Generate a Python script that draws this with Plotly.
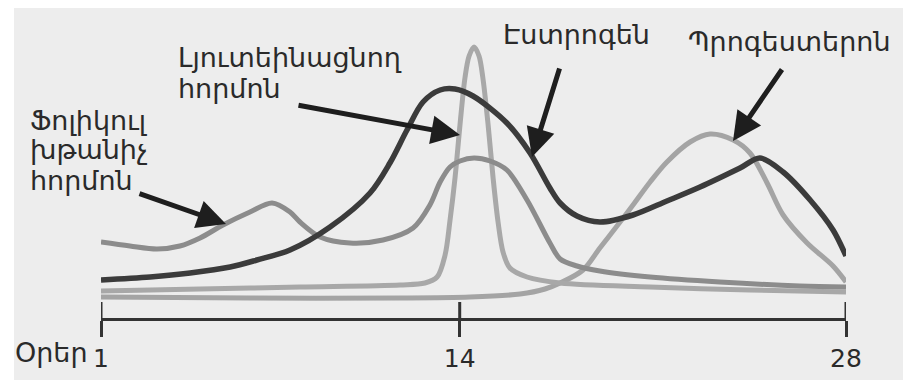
import plotly.graph_objects as go

# ---- data (level = relative hormone level) ----
fsh_days = [1.00, 2.05, 3.03, 3.86, 4.59, 5.42, 6.40, 7.20, 7.85, 8.21, 8.94, 10.02, 11.22, 12.31, 12.92,
            13.29, 13.65, 14.01, 14.52, 15.10, 15.71, 16.44, 17.27, 17.64, 18.25, 19.08, 20.90, 23.43, 26.33, 28.00]
fsh_level = [76, 72, 69, 72, 80, 93, 106, 115, 106, 96, 81, 75, 78, 90, 113,
             136, 151, 157, 160, 157, 148, 118, 75, 59, 52, 47, 41, 36, 32, 31]

estrogen_days = [1.00, 2.78, 4.23, 5.68, 6.65, 7.85, 9.30, 10.75, 11.47, 12.09, 12.67, 13.29, 13.83, 14.48,
                 15.71, 16.55, 17.27, 17.64, 18.25, 19.08, 20.28, 21.51, 22.71, 24.16, 24.88, 25.72, 26.70, 27.53, 28.00]
estrogen_level = [38, 41, 45, 51, 58, 68, 91, 125, 155, 188, 216, 228, 229, 222,
                  195, 165, 130, 115, 102, 96, 103, 117, 131, 150, 160, 146, 118, 88, 62]

lh_days = [1.00, 4.59, 8.21, 11.84, 12.74, 13.18, 13.47, 13.65, 13.83, 14.01, 14.19, 14.34, 14.52, 14.70,
           14.84, 15.03, 15.21, 15.39, 15.57, 15.82, 16.44, 17.64, 20.90, 24.52, 28.00]
lh_level = [27, 29, 31, 33, 35, 41, 63, 98, 140, 193, 240, 262, 271, 262,
            240, 193, 140, 96, 66, 50, 41, 35, 31, 28, 26]

prog_days = [1.00, 6.40, 11.84, 14.37, 16.19, 17.09, 17.64, 18.47, 19.08, 19.70, 20.28, 20.90, 21.51,
             22.35, 23.07, 23.91, 24.52, 25.14, 25.72, 26.59, 27.53, 28.00]
prog_level = [21, 20, 20, 21, 24, 29, 35, 48, 70, 92, 113, 136, 156,
              176, 184, 178, 165, 135, 103, 75, 52, 36]

tick_days = [1, 14, 28]
tick_text = ["1", "14", "28"]

lbl_fsh = ["Ֆոլիկուլ", "խթանիչ", "հորմոն"]
lbl_lh = ["Լյուտեինացնող", "հորմոն"]
lbl_estrogen = "Էստրոգեն"
lbl_prog = "Պրոգեստերոն"
lbl_days = "Օրեր"

# ---- layout geometry (screen pixels; the page body adds an 8px offset) ----
OFF = 8
SW, SH = 913, 380
W, H = SW - OFF, SH - OFF
L, R = 101, 846          # screen x pixel of day 1 and day 28
B = 318                  # screen y pixel of the axis line
TOP = OFF                # plot area top (screen)

def px(x):
    return (x - L) / (R - L)

def py(y):
    return (B - y) / (B - TOP)

FONT = "DejaVu Sans, Noto Sans, sans-serif"
TXT = "#2a2a2a"

fig = go.Figure()
series = [
    (prog_days, prog_level, "#a4a4a4", 5),
    (lh_days, lh_level, "#a8a8a8", 5),
    (fsh_days, fsh_level, "#8c8c8c", 5),
    (estrogen_days, estrogen_level, "#3b3b3b", 5.5),
]
for xs, ys, col, w in series:
    fig.add_trace(go.Scatter(x=xs, y=ys, mode="lines",
                             line=dict(color=col, width=w, shape="spline", smoothing=0.9),
                             hoverinfo="skip", showlegend=False, cliponaxis=False))

shapes = [dict(type="rect", xref="paper", yref="paper", x0=px(14), x1=px(903), y0=py(385), y1=py(5),
               fillcolor="#ededed", line=dict(width=0), layer="below")]
for t in tick_days:
    shapes.append(dict(type="line", xref="x", yref="paper", x0=t, x1=t, y0=0, y1=16 / (B - TOP),
                       line=dict(color="#333333", width=3)))

annotations = []
def text(s, x, y, xanchor="left", size=27):
    annotations.append(dict(text=s, xref="paper", yref="paper", x=px(x), y=py(y), showarrow=False,
                            xanchor=xanchor, yanchor="middle", align="left",
                            font=dict(family=FONT, size=size, color=TXT)))

for s, yy in zip(lbl_lh, [57, 88]):
    text(s, 176, yy)
for s, yy in zip(lbl_fsh, [120, 150, 180]):
    text(s, 28, yy)
text(lbl_estrogen, 501, 35)
text(lbl_prog, 686, 42)
text(lbl_days, 13, 353, size=27)

def arrow(tail, tip):
    annotations.append(dict(text="", xref="paper", yref="paper", x=px(tip[0]), y=py(tip[1]),
                            ax=tail[0] - tip[0], ay=tail[1] - tip[1], showarrow=True,
                            arrowhead=2, arrowsize=1.15, arrowwidth=5, arrowcolor="#1e1e1e", standoff=0))

arrow((138, 193), (226, 224))
arrow((297, 105), (460, 135))
arrow((560, 67), (532, 157))
arrow((783, 68), (733, 141))

fig.update_layout(
    width=W, height=H,
    margin=dict(l=L - OFF, r=W - (R - OFF), t=TOP - OFF, b=H - (B - OFF), pad=0),
    paper_bgcolor="white", plot_bgcolor="rgba(0,0,0,0)",
    shapes=shapes, annotations=annotations,
    xaxis=dict(range=[1, 28], tickvals=tick_days, ticktext=tick_text, showgrid=False, zeroline=False,
               showline=True, linecolor="#333333", linewidth=3, ticks="outside", ticklen=16, tickwidth=3,
               tickcolor="#333333", tickfont=dict(family=FONT, size=25, color=TXT), fixedrange=True),
    yaxis=dict(range=[0, B - TOP], visible=False, fixedrange=True),
)

fig.write_html("out.html")
